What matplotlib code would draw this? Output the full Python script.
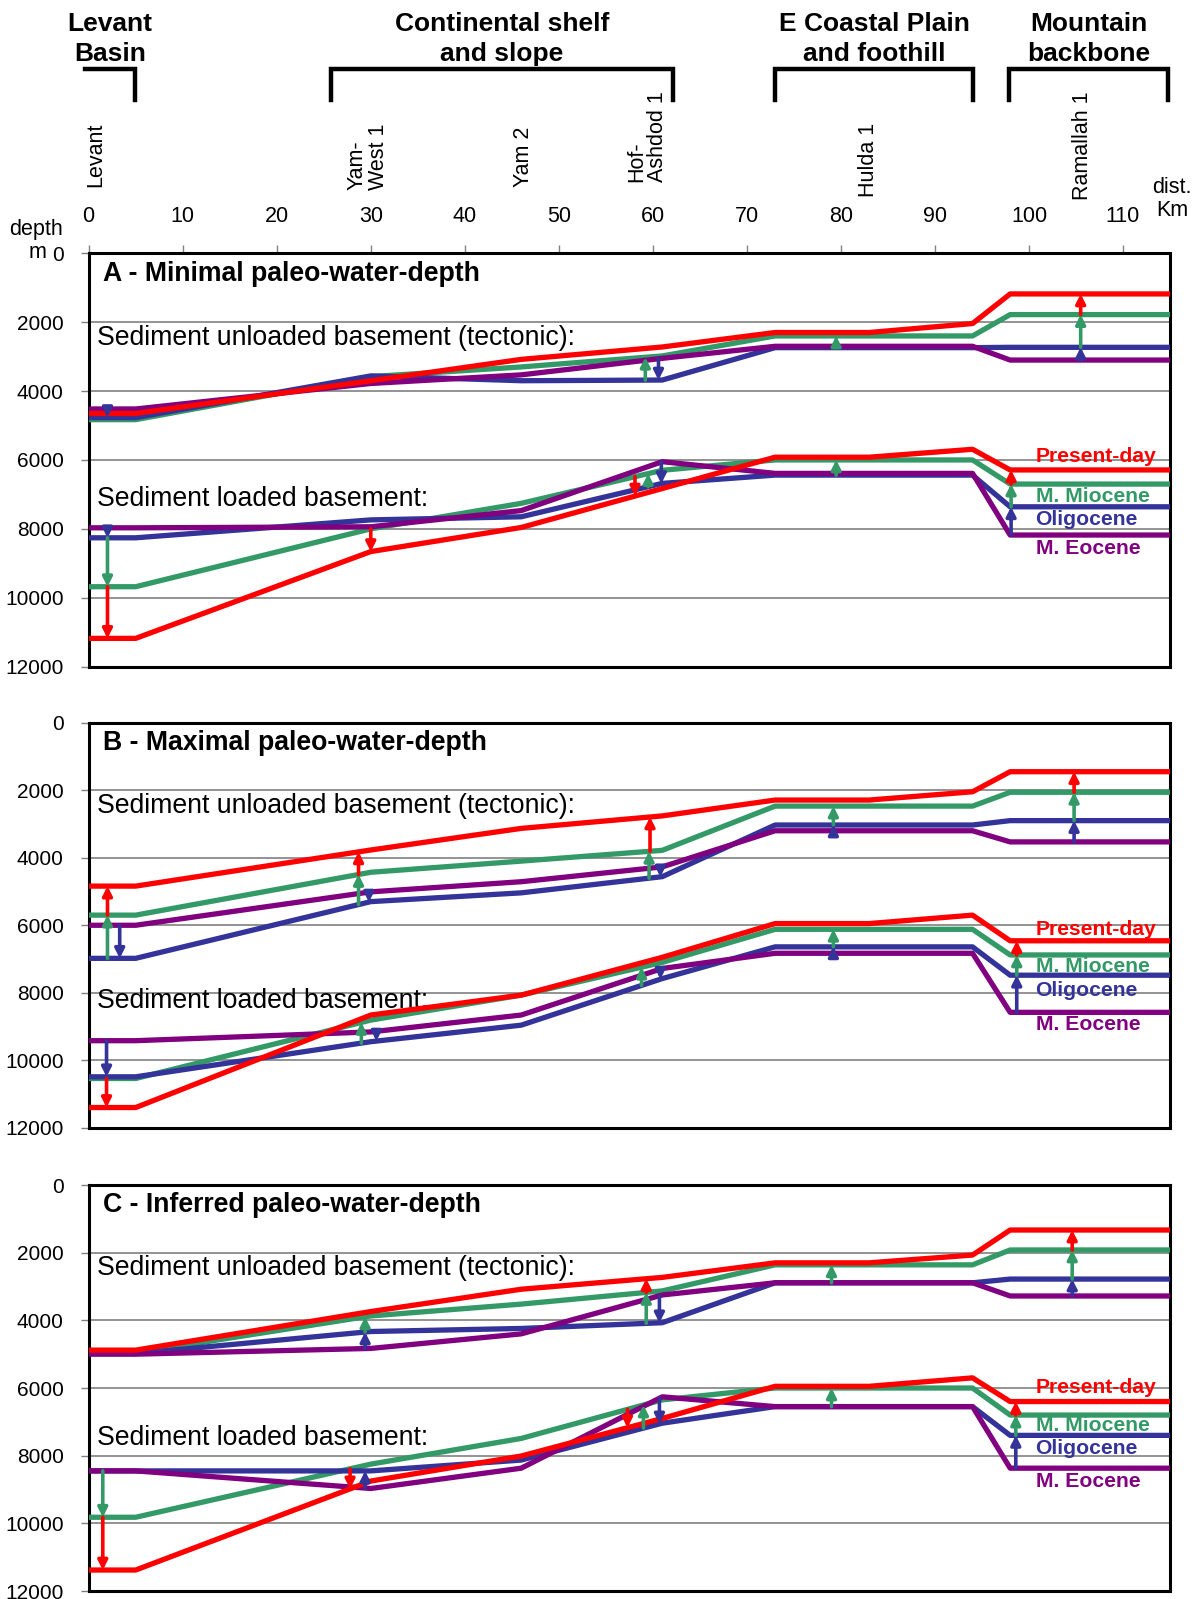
import numpy as np
import matplotlib.pyplot as plt
from matplotlib import transforms

plt.rcParams['font.family'] = ['Liberation Sans', 'DejaVu Sans']

# distance along the section (km) of the line vertices
km = [0, 5, 30, 46, 61, 73, 83, 94, 98, 115]

# depth (m) of basement; unl = sediment unloaded (tectonic), ld = sediment loaded
# A - minimal paleo-water-depth
a_unl_pre = [4650, 4650, 3700, 3080, 2720, 2300, 2300, 2040, 1180, 1180]
a_unl_mio = [4830, 4830, 3580, 3300, 2980, 2400, 2400, 2400, 1780, 1780]
a_unl_oli = [4770, 4770, 3560, 3700, 3680, 2740, 2740, 2740, 2730, 2730]
a_unl_eoc = [4520, 4520, 3780, 3530, 3050, 2700, 2700, 2700, 3100, 3100]
a_ld_pre = [11180, 11180, 8660, 7960, 6830, 5920, 5920, 5690, 6290, 6290]
a_ld_mio = [9680, 9680, 8000, 7260, 6300, 6000, 6000, 6000, 6700, 6700]
a_ld_oli = [8260, 8260, 7740, 7650, 6680, 6440, 6440, 6440, 7360, 7360]
a_ld_eoc = [7970, 7970, 7940, 7470, 6050, 6390, 6390, 6390, 8180, 8180]

# B - maximal paleo-water-depth
b_unl_pre = [4840, 4840, 3770, 3130, 2760, 2290, 2290, 2045, 1450, 1450]
b_unl_mio = [5700, 5700, 4430, 4100, 3780, 2470, 2470, 2470, 2060, 2060]
b_unl_oli = [6980, 6980, 5300, 5040, 4560, 3030, 3030, 3030, 2900, 2900]
b_unl_eoc = [6000, 6000, 5010, 4710, 4270, 3200, 3200, 3200, 3530, 3530]
b_ld_pre = [11400, 11400, 8660, 8070, 6950, 5950, 5950, 5700, 6460, 6460]
b_ld_mio = [10540, 10540, 8810, 8070, 7100, 6120, 6120, 6120, 6880, 6880]
b_ld_oli = [10490, 10490, 9450, 8960, 7580, 6640, 6640, 6640, 7480, 7480]
b_ld_eoc = [9420, 9420, 9160, 8660, 7280, 6830, 6830, 6830, 8580, 8580]

# C - inferred paleo-water-depth
c_unl_pre = [4880, 4880, 3740, 3080, 2730, 2300, 2300, 2070, 1330, 1330]
c_unl_mio = [4960, 4960, 3870, 3520, 3130, 2360, 2360, 2360, 1920, 1920]
c_unl_oli = [4980, 4980, 4330, 4240, 4070, 2890, 2890, 2890, 2780, 2780]
c_unl_eoc = [5000, 5000, 4830, 4400, 3250, 2890, 2890, 2890, 3280, 3280]
c_ld_pre = [11380, 11380, 8750, 8010, 6900, 5950, 5950, 5700, 6400, 6400]
c_ld_mio = [9820, 9820, 8250, 7490, 6350, 6000, 6000, 6000, 6800, 6800]
c_ld_oli = [8450, 8450, 8450, 8130, 7040, 6550, 6550, 6550, 7400, 7400]
c_ld_eoc = [8450, 8450, 8970, 8370, 6260, 6550, 6550, 6550, 8370, 8370]

# change arrows: (km, epoch the arrow points to); it starts on the previous epoch
a_unl_arrows = [(2.0, 'oli'), (59.2, 'mio'), (60.6, 'oli'), (79.5, 'mio'),
                (105.5, 'pre'), (105.5, 'mio'), (105.5, 'oli')]
a_ld_arrows = [(2.0, 'oli'), (2.0, 'mio'), (2.0, 'pre'), (30.0, 'pre'), (58.1, 'pre'),
               (59.5, 'mio'), (60.9, 'oli'), (79.5, 'mio'),
               (98.1, 'pre'), (98.1, 'mio'), (98.1, 'oli')]
b_unl_arrows = [(2.0, 'pre'), (2.0, 'mio'), (3.3, 'oli'), (28.7, 'pre'), (28.7, 'mio'),
                (29.8, 'oli'), (59.7, 'pre'), (59.6, 'mio'), (60.8, 'oli'),
                (79.2, 'mio'), (79.2, 'oli'), (104.8, 'pre'), (104.8, 'mio'), (104.8, 'oli')]
b_ld_arrows = [(1.9, 'oli'), (1.9, 'pre'), (29.0, 'mio'), (30.6, 'oli'), (58.8, 'mio'),
               (60.8, 'oli'), (79.2, 'mio'), (79.2, 'oli'),
               (98.7, 'pre'), (98.7, 'mio'), (98.7, 'oli')]
c_unl_arrows = [(29.4, 'mio'), (29.4, 'oli'), (59.3, 'pre'), (59.3, 'mio'), (60.7, 'oli'),
                (79.0, 'mio'), (104.6, 'pre'), (104.6, 'mio'), (104.6, 'oli')]
c_ld_arrows = [(1.5, 'mio'), (1.5, 'pre'), (27.8, 'pre'), (29.4, 'oli'), (57.3, 'pre'),
               (59.0, 'mio'), (60.7, 'oli'), (79.0, 'mio'),
               (98.6, 'pre'), (98.6, 'mio'), (98.6, 'oli')]

titles = ['A - Minimal paleo-water-depth', 'B - Maximal paleo-water-depth',
          'C - Inferred paleo-water-depth']
epoch_names = {'pre': 'Present-day', 'mio': 'M. Miocene', 'oli': 'Oligocene', 'eoc': 'M. Eocene'}
epoch_label_y = [[5890, 7060, 7720, 8560], [6120, 7230, 7940, 8930], [5980, 7120, 7790, 8770]]
loaded_text_y = [7140, 8250, 7470]

wells = ['Levant', 'Yam-\nWest 1', 'Yam 2', 'Hof-\nAshdod 1', 'Hulda 1', 'Ramallah 1']
well_km = [0.8, 29.7, 46.2, 59.4, 82.9, 105.7]
well_bottom_px = [187, 190, 187, 182, 197, 200]
regions = ['Levant\nBasin', 'Continental shelf\nand slope', 'E Coastal Plain\nand foothill',
           'Mountain\nbackbone']
region_km = [(-0.4, 4.9), (25.8, 62.1), (73.0, 94.1), (97.9, 114.8)]

order = ['eoc', 'oli', 'mio', 'pre']
draw_order = ['mio', 'oli', 'eoc', 'pre']
colors = {'pre': '#ff0000', 'mio': '#339966', 'oli': '#333399', 'eoc': '#800080'}

panels = [
    ({'pre': a_unl_pre, 'mio': a_unl_mio, 'oli': a_unl_oli, 'eoc': a_unl_eoc},
     {'pre': a_ld_pre, 'mio': a_ld_mio, 'oli': a_ld_oli, 'eoc': a_ld_eoc},
     a_unl_arrows, a_ld_arrows),
    ({'pre': b_unl_pre, 'mio': b_unl_mio, 'oli': b_unl_oli, 'eoc': b_unl_eoc},
     {'pre': b_ld_pre, 'mio': b_ld_mio, 'oli': b_ld_oli, 'eoc': b_ld_eoc},
     b_unl_arrows, b_ld_arrows),
    ({'pre': c_unl_pre, 'mio': c_unl_mio, 'oli': c_unl_oli, 'eoc': c_unl_eoc},
     {'pre': c_ld_pre, 'mio': c_ld_mio, 'oli': c_ld_oli, 'eoc': c_ld_eoc},
     c_unl_arrows, c_ld_arrows),
]

W, H = 1200, 1599
fig = plt.figure(figsize=(W / 100, H / 100), dpi=100)
rects = [[0.0739, 0.5831, 0.9011, 0.2585],
         [0.0739, 0.2947, 0.9011, 0.2533],
         [0.0739, 0.0050, 0.9011, 0.2539]]


def draw_arrow(ax, x, series, target):
    src = order[order.index(target) - 1]
    y0 = np.interp(x, km, series[src])
    y1 = np.interp(x, km, series[target])
    ax.annotate('', xy=(x, y1), xytext=(x, y0), zorder=6,
                arrowprops=dict(arrowstyle='-|>,head_length=0.55,head_width=0.28',
                                color=colors[target], lw=2.6, shrinkA=0, shrinkB=0))


axes = []
for i, (unl, ld, unl_arr, ld_arr) in enumerate(panels):
    ax = fig.add_axes(rects[i])
    axes.append(ax)
    ax.set_xlim(0, 115)
    ax.set_ylim(12000, 0)
    ax.set_yticks(range(0, 12001, 2000))
    ax.yaxis.grid(True, color='#808080', lw=1.2)
    ax.set_axisbelow(True)
    ax.tick_params(axis='y', length=6, width=1, color='#808080', labelsize=15, pad=12)
    for s in ax.spines.values():
        s.set_linewidth(2.2)
    if i == 0:
        ax.xaxis.tick_top()
        ax.set_xticks(range(0, 111, 10))
        ax.tick_params(axis='x', length=6, width=1, color='#808080', labelsize=15.5, pad=13)
    else:
        ax.set_xticks([])

    for group in (unl, ld):
        for key in draw_order:
            ax.plot(km, group[key], color=colors[key], lw=3.8, solid_capstyle='butt', zorder=3)
    for x, t in unl_arr:
        draw_arrow(ax, x, unl, t)
    for x, t in ld_arr:
        draw_arrow(ax, x, ld, t)

    ax.text(1.5, 600, titles[i], fontsize=19.2, fontweight='bold', va='center', ha='left')
    ax.text(0.9, 2460, 'Sediment unloaded basement (tectonic):', fontsize=19.2,
            va='center', ha='left', zorder=2)
    ax.text(0.9, loaded_text_y[i], 'Sediment loaded basement:', fontsize=19.2,
            va='center', ha='left', zorder=2)
    for key, y in zip(['pre', 'mio', 'oli', 'eoc'], epoch_label_y[i]):
        ax.text(100.7, y, epoch_names[key], color=colors[key], fontsize=15.2,
                fontweight='bold', va='center', ha='left', zorder=7)

# header above panel A: regions, wells, axis captions
trans = transforms.blended_transform_factory(axes[0].transData, fig.transFigure)


def fy(px):
    return 1 - px / H


for name, (x0, x1) in zip(regions, region_km):
    fig.text((x0 + x1) / 2, fy(39), name, transform=trans, ha='center', va='center',
             fontsize=19, fontweight='bold', linespacing=1.3)
    if x0 < 0:
        fig.add_artist(plt.Line2D([x0, x1, x1], [fy(69), fy(69), fy(100)], transform=trans,
                                  color='black', lw=3.2, solid_joinstyle='miter'))
    else:
        fig.add_artist(plt.Line2D([x0, x0, x1, x1], [fy(100), fy(69), fy(69), fy(100)],
                                  transform=trans, color='black', lw=3.2,
                                  solid_joinstyle='miter'))

for name, x, b in zip(wells, well_km, well_bottom_px):
    fig.text(x, fy(b), name, transform=trans, rotation=90, ha='center', va='bottom',
             multialignment='left', fontsize=15.5, linespacing=1.0)

fig.text(36 / W, fy(229), 'depth', ha='center', va='center', fontsize=15.5)
fig.text(38 / W, fy(253), 'm', ha='center', va='center', fontsize=15.5)
fig.text(1172 / W, fy(199), 'dist.\nKm', ha='center', va='center', fontsize=15.5,
         linespacing=1.1)

fig.savefig('out.png', dpi=100)
